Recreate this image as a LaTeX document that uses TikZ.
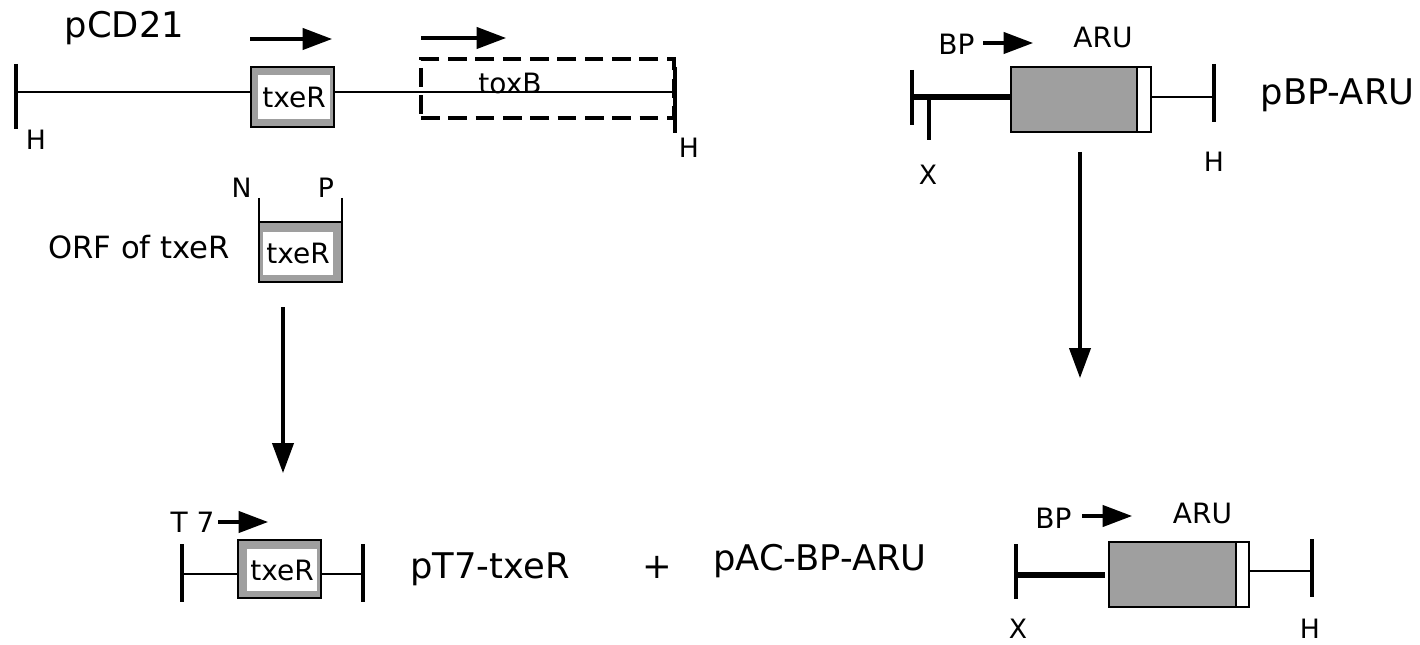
\documentclass[tikz,border=0pt]{standalone}
\usepackage{fontspec}
\setmainfont{DejaVu Sans}
\usetikzlibrary{arrows.meta}
\tikzset{
  big/.style={font=\fontsize{26.5pt}{30pt}\selectfont, inner sep=0pt, anchor=base},
  mid/.style={font=\fontsize{21pt}{24pt}\selectfont, inner sep=0pt, anchor=base},
  sml/.style={font=\fontsize{20pt}{23pt}\selectfont, inner sep=0pt, anchor=base},
  dna/.style={line width=1.7pt},
  thickdna/.style={line width=5.2pt},
  bar/.style={line width=2.3pt},
  genebox/.style={draw=black, fill=gray!75, line width=2pt, inner sep=0pt, minimum width=62.25pt},
  whitebox/.style={fill=white, inner sep=0pt, font=\fontsize{21pt}{24pt}\selectfont},
  arubox/.style={draw=black, fill=gray!75, line width=1.7pt, inner sep=0pt, minimum height=48.75pt},
  stripbox/.style={draw=black, fill=white, line width=1.7pt, inner sep=0pt, minimum height=48.75pt},
  dashbox/.style={draw=black, dash pattern=on 14pt off 6.5pt, line width=2.6pt, inner sep=0pt},
  dir/.style={line width=2.3pt, -{Triangle[length=22pt,width=16pt]}},
  down/.style={line width=2.3pt, -{Triangle[length=22.5pt,width=16pt]}}
}
\begin{document}
\begin{tikzpicture}[x=0.75pt,y=-0.75pt]
\useasboundingbox (0,0) rectangle (1420,645);

% ---------- pCD21 ----------
\node[big] (pcd) at (124.5,38) {pCD21};
\coordinate (a1s) at (250,39); \coordinate (a1e) at (332,39);
\draw[dir] (a1s) -- (a1e);
\coordinate (a2s) at (421,38); \coordinate (a2e) at (506,38);
\draw[dir] (a2s) -- (a2e);

\node[dashbox, minimum width=189.75pt, minimum height=44.25pt] (toxbox) at (547.5,88.5) {};
\node[mid] (toxB) at (510,94) {toxB};

\coordinate (hlt) at (16,64); \coordinate (hlb) at (16,129); \coordinate (hl) at (16,92);
\coordinate (hrt) at (675,67); \coordinate (hrb) at (675,133); \coordinate (hr) at (675,92);
\draw[bar] (hlt) -- (hlb);
\draw[bar] (hrt) -- (hrb);

\node[genebox, minimum height=45pt] (b1) at (292.5,97) {};
\node[whitebox, minimum width=54pt, minimum height=33pt] (w1) at (294,97) {txeR};
\draw[dna] (hl) -- (hl -| b1.west);
\draw[dna] (b1.east |- hr) -- (hr);

\node[sml] (H1) at (36,150) {H};
\node[sml] (H2) at (689,158) {H};

% ---------- ORF of txeR ----------
\node[font=\fontsize{23pt}{26pt}\selectfont, inner sep=0pt, anchor=base] (orf) at (139,258) {ORF of txeR};
\node[genebox, minimum height=45pt] (b2) at (300.5,252) {};
\node[whitebox, minimum width=52.5pt, minimum height=32.25pt] (w2) at (298,253.5) {txeR};
\coordinate (nt) at (259,198); \coordinate (pt) at (342,198);
\draw[line width=2pt] (nt) -- (nt |- b2.north);
\draw[line width=2pt] (pt) -- (pt |- b2.north);
\node[sml] (N) at (241.5,198) {N};
\node[sml] (P) at (326,198) {P};

\coordinate (d1s) at (283,307); \coordinate (d1e) at (283,473);
\draw[down] (d1s) -- (d1e);

% ---------- pT7-txeR ----------
\node[mid] (t7) at (192.5,532) {T 7};
\coordinate (a3s) at (218,522); \coordinate (a3e) at (268,522);
\draw[dir] (a3s) -- (a3e);
\coordinate (tlt) at (182,544); \coordinate (tlb) at (182,602); \coordinate (tl) at (182,574);
\coordinate (trt) at (363,544); \coordinate (trb) at (363,602); \coordinate (tr) at (363,574);
\draw[bar] (tlt) -- (tlb);
\draw[bar] (trt) -- (trb);
\node[genebox, minimum height=43.5pt] (b3) at (279.5,569) {};
\node[whitebox, minimum width=52.5pt, minimum height=31.5pt] (w3) at (282,570) {txeR};
\draw[dna] (tl) -- (tl -| b3.west);
\draw[dna] (b3.east |- tr) -- (tr);

\node[big] (pt7) at (490,578) {pT7-txeR};
\node[big] (plus) at (657,578) {+};
\node[big] (pac) at (820,570) {pAC-BP-ARU};

% ---------- pBP-ARU (top right) ----------
\node[mid] (bp1) at (956.5,55) {BP};
\coordinate (a4s) at (983,43); \coordinate (a4e) at (1033,43);
\draw[dir] (a4s) -- (a4e);
\node[mid] (aru1) at (1103,48) {ARU};
\coordinate (xlt) at (912,70); \coordinate (xlb) at (912,125); \coordinate (xl) at (912,97);
\draw[bar] (xlt) -- (xlb);
\coordinate (xs) at (929,97); \coordinate (xsb) at (929,140);
\draw[bar] (xs) -- (xsb);
\node[arubox, minimum width=94.5pt] (g1) at (1074,99.5) {};
\node[stripbox, minimum width=10.5pt] (s1) at (1144,99.5) {};
\draw[thickdna] (xl) -- (xl -| g1.west);
\coordinate (hrt2) at (1214,64); \coordinate (hrb2) at (1214,122); \coordinate (hr2) at (1214,97);
\draw[bar] (hrt2) -- (hrb2);
\draw[dna] (s1.east |- hr2) -- (hr2);
\node[sml] (X1) at (928,185) {X};
\node[sml] (H3) at (1214,172) {H};
\node[big] (pbp) at (1337.5,105) {pBP-ARU};

\coordinate (d2s) at (1080,152); \coordinate (d2e) at (1080,378);
\draw[down] (d2s) -- (d2e);

% ---------- bottom right ----------
\node[mid] (bp2) at (1053.5,528) {BP};
\coordinate (a5s) at (1082,516); \coordinate (a5e) at (1132,516);
\draw[dir] (a5s) -- (a5e);
\node[mid] (aru2) at (1202.5,523) {ARU};
\coordinate (ylt) at (1016,544); \coordinate (ylb) at (1016,599); \coordinate (yl) at (1016,575);
\draw[bar] (ylt) -- (ylb);
\node[arubox, minimum width=95.25pt] (g2) at (1172.5,574.5) {};
\node[stripbox, minimum width=9.75pt] (s2) at (1242.5,574.5) {};
\draw[thickdna] (yl) -- ++(89,0) coordinate (ye);
\coordinate (yrt) at (1312,539); \coordinate (yrb) at (1312,597); \coordinate (yr) at (1312,571);
\draw[bar] (yrt) -- (yrb);
\draw[dna] (s2.east |- yr) -- (yr);
\node[sml] (X2) at (1018,638) {X};
\node[sml] (H4) at (1310,638) {H};
\end{tikzpicture}
\end{document}
